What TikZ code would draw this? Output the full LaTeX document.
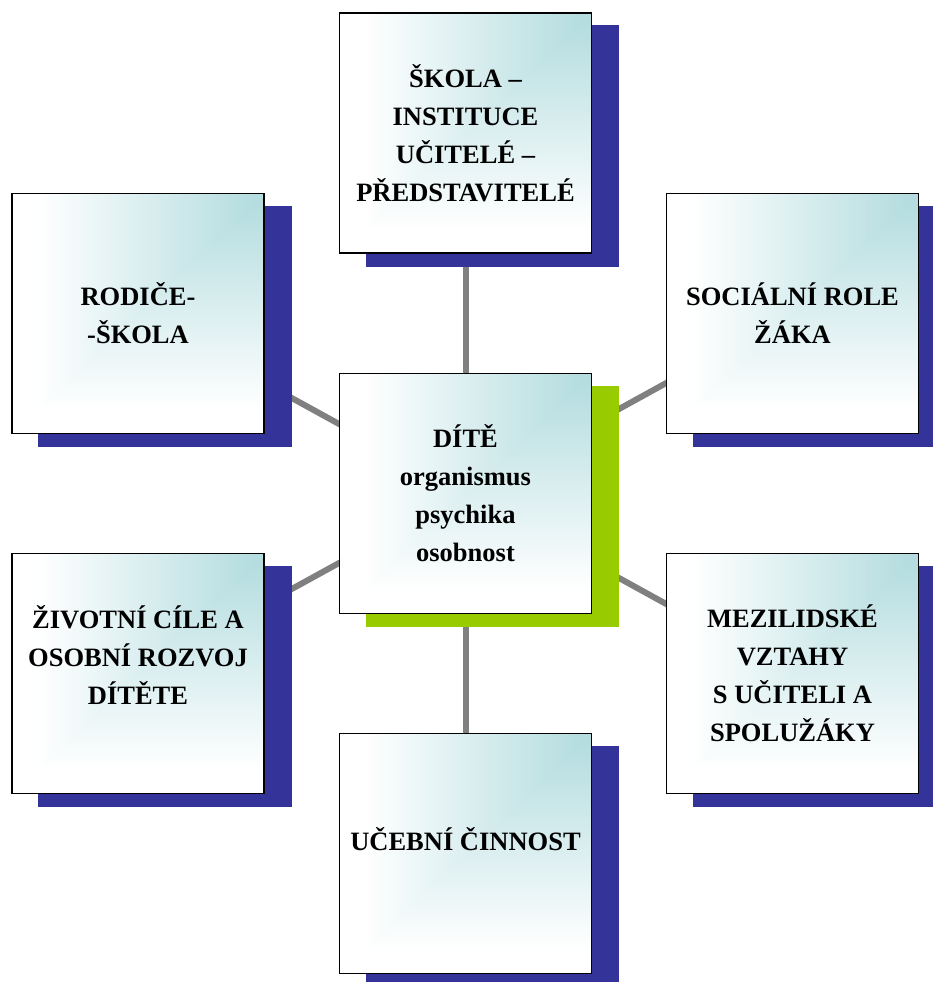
\documentclass[tikz,border=0pt]{standalone}
\usepackage{fontspec}
\setmainfont{Liberation Serif}
\usetikzlibrary{backgrounds}

\definecolor{boxteal}{HTML}{B5DDE0}
\definecolor{shadowblue}{HTML}{333399}
\definecolor{childgreen}{HTML}{99CC00}
\definecolor{linkgray}{HTML}{808080}

% teal in the upper right corner, white towards left and bottom
\pgfdeclarefunctionalshading{cornerteal}{\pgfpoint{0bp}{0bp}}{\pgfpoint{100bp}{100bp}}{}{
  75 exch sub exch 75 exch sub
  2 copy lt {exch} if pop
  50 div 0.05 sub 0.85 div
  dup 0 lt {pop 0} if dup 1 gt {pop 1} if
  dup 0.29 mul 0.71 add exch
  dup 0.133 mul 0.867 add exch
  0.122 mul 0.878 add
}

\tikzset{
  topic/.style={draw=black, line width=1.8pt, shade, shading=cornerteal,
    minimum width=252pt, minimum height=240pt, inner sep=0pt, align=center,
    font=\fontsize{26.5}{38}\selectfont\bfseries},
  link/.style={draw=linkgray, line width=6pt},
}

\begin{document}
\begin{tikzpicture}[x=1pt,y=-1pt]
\useasboundingbox (0,0) rectangle (933,982);

% Boxes
\node[topic] (school) at (465.5,133) {ŠKOLA –\\INSTITUCE\\UČITELÉ –\\PŘEDSTAVITELÉ};
\node[topic] (child) at (465.5,493.5) {DÍTĚ\\organismus\\psychika\\osobnost};
\node[topic] (parents) at (138,313.5) {RODIČE-\\-ŠKOLA};
\node[topic] (role) at (792.5,313.5) {SOCIÁLNÍ ROLE\\ŽÁKA};
\node[topic] (goals) at (138,673.5) {ŽIVOTNÍ CÍLE A\\OSOBNÍ ROZVOJ\\DÍTĚTE\\\mbox{}};
\node[topic] (relations) at (792.5,673.5) {MEZILIDSKÉ\\VZTAHY\\S UČITELI A\\SPOLUŽÁKY};
\node[topic] (learning) at (465.5,853.5) {UČEBNÍ ČINNOST\\[-8pt]\mbox{}};

\begin{scope}[on background layer]
% Links
\foreach \outer in {school,parents,role,goals,relations,learning}
  \draw[link] (child.center) -- (\outer.center);

% Shadows
\foreach \outer in {school,parents,role,goals,relations,learning}
  \fill[shadowblue] ([shift={(27,13)}]\outer.south west) rectangle ([shift={(27,13)}]\outer.north east);
\fill[childgreen] ([shift={(27,13)}]child.south west) rectangle ([shift={(27,13)}]child.north east);
\end{scope}

\end{tikzpicture}
\end{document}
